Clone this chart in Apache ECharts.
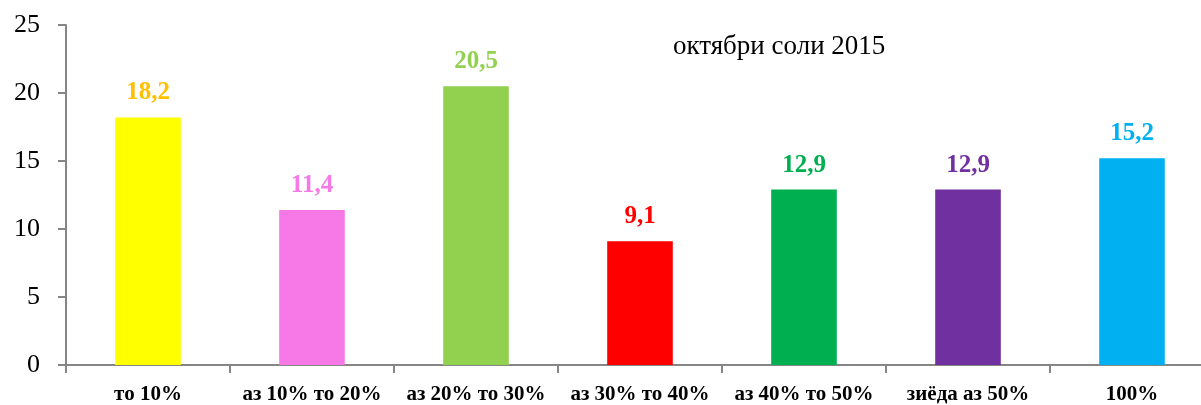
<!DOCTYPE html>
<html lang="en">

<head>
    <meta charset="UTF-8">
    <title>октябри соли 2015</title>
    <script src="https://cdnjs.cloudflare.com/ajax/libs/echarts/6.0.0/echarts.min.js"></script>
    <style>
        html, body { margin: 0; padding: 0; background: #fff; overflow: hidden; }
        /* a bit wider than the window: the plot runs past the right edge */
        #main { width: 1214px; height: 405px; }
    </style>
</head>

<body>
    <div id="main"></div>
    <script>
        // data
        const categories = ["то 10%", "аз 10% то 20%", "аз 20% то 30%", "аз 30% то 40%", "аз 40% то 50%", "зиёда аз 50%", "100%"];
        const values = [18.2, 11.4, 20.5, 9.1, 12.9, 12.9, 15.2];
        const barColors = ["#FFFF00", "#F779E8", "#92D050", "#FF0000", "#00B050", "#7030A0", "#00B0F0"];
        const labelColors = ["#FFC000", "#F779E8", "#92D050", "#FF0000", "#00B050", "#7030A0", "#00B0F0"];
        const yTicks = [0, 5, 10, 15, 20, 25];

        const chart = echarts.init(document.getElementById('main'));
        const serif = "'Liberation Serif', 'DejaVu Serif', serif";

        const option = {
            animation: false,
            title: {
                text: "октябри соли 2015",
                left: 668,
                top: 28,
                textStyle: { fontFamily: serif, fontWeight: 'normal', fontSize: 27, color: '#000' }
            },
            grid: { left: 66, right: 0, top: 25, bottom: 40, containLabel: false },
            xAxis: {
                type: 'category',
                data: categories,
                axisLine: { lineStyle: { color: '#868686', width: 2 } },
                axisTick: { show: true, length: 8, lineStyle: { color: '#868686', width: 2 } },
                axisLabel: { interval: 0, fontFamily: serif, fontWeight: 'bold', fontSize: 21, color: '#000', margin: 19 }
            },
            yAxis: {
                type: 'value',
                min: yTicks[0],
                max: yTicks[yTicks.length - 1],
                interval: 5,
                splitLine: { show: false },
                axisLine: { show: true, lineStyle: { color: '#868686', width: 2 } },
                axisTick: { show: true, length: 8, lineStyle: { color: '#868686', width: 2 } },
                axisLabel: { fontFamily: serif, fontSize: 26, color: '#000', margin: 26 }
            },
            series: [{
                type: 'bar',
                barWidth: '40%',
                data: values.map((v, i) => ({
                    value: v,
                    itemStyle: { color: barColors[i] },
                    label: { color: labelColors[i] }
                })),
                label: {
                    show: true,
                    position: 'top',
                    distance: 12,
                    fontFamily: serif,
                    fontWeight: 'bold',
                    fontSize: 25,
                    formatter: (p) => String(p.value).replace('.', ',')
                }
            }]
        };

        chart.setOption(option);
    </script>
</body>

</html>
